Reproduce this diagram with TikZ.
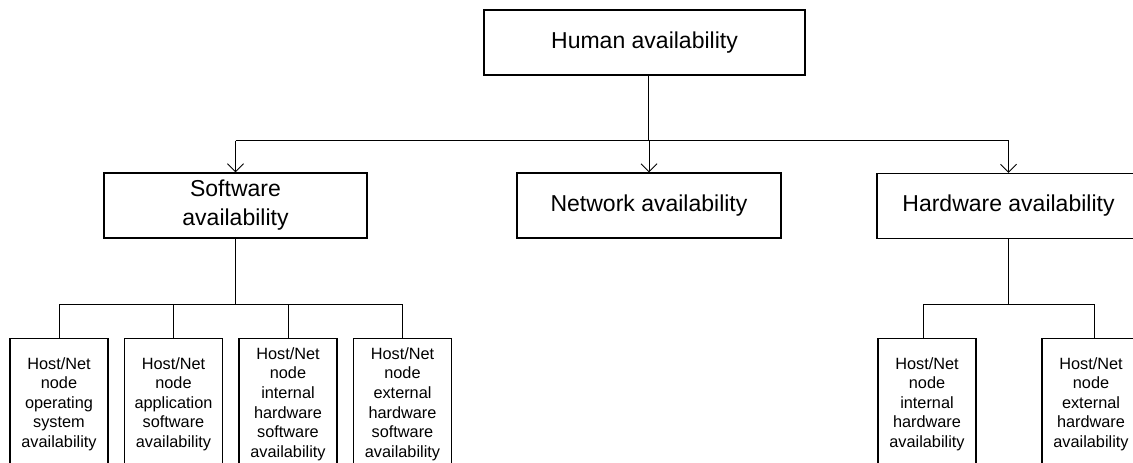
\documentclass[tikz,border=0pt]{standalone}
\usepackage{fontspec}
\setmainfont{Liberation Sans}
\usetikzlibrary{arrows.meta}
\begin{document}
\begin{tikzpicture}[x=1pt,y=-1pt,
  bigbox/.style={draw, line width=1.1pt, inner sep=0pt, align=center,
    minimum width=263pt, minimum height=65pt,
    font=\fontsize{23}{28.5}\selectfont},
  leafbox/.style={draw, line width=1.1pt, inner sep=0pt, anchor=north,
    minimum width=98pt, minimum height=140pt},
  leaftext/.style={align=center, inner sep=0pt,
    font=\fontsize{16.3}{19.6}\selectfont},
  wire/.style={line width=1pt},
  arr/.style={wire, -{Straight Barb[length=8pt,width=16pt,line width=1pt]}}
]
\clip (0,0) rectangle (1133,463);

% top level and second level
\node[bigbox, minimum width=321pt] (human) at (644.5,42.5) {Human availability};
\node[bigbox] (soft) at (235.5,205.5) {Software\\[0.5pt]availability};
\node[bigbox, minimum width=264pt] (net) at (649,205.5) {Network availability};
\node[bigbox] (hard) at (1008.5,206) {Hardware availability};

% software leaves
\node[leafbox] (s1) at (59,338) {};
\node[leafbox] (s2) at (173.5,338) {};
\node[leafbox] (s3) at (288,338) {};
\node[leafbox] (s4) at (402.5,338) {};
\node[leaftext] (s1t) at (59,404) {Host/Net\\node\\operating\\system\\availability};
\node[leaftext] (s2t) at (173.5,404) {Host/Net\\node\\application\\software\\availability};
\node[leaftext] (s3t) at (288,404) {Host/Net\\node\\internal\\hardware\\software\\availability};
\node[leaftext] (s4t) at (402.5,404) {Host/Net\\node\\external\\hardware\\software\\availability};

% hardware leaves
\node[leafbox] (h1) at (927,338) {};
\node[leafbox] (h2) at (1091,338) {};
\node[leaftext] (h1t) at (927,404) {Host/Net\\node\\internal\\hardware\\availability};
\node[leaftext] (h2t) at (1091,404) {Host/Net\\node\\external\\hardware\\availability};

% top fan-out
\draw[wire] ([xshift=3.5pt]human.south) -- ++(0,65) coordinate (hub);
\draw[wire] (soft.north |- hub) -- (hard.north |- hub);
\draw[arr] (soft.north |- hub) -- (soft.north);
\draw[arr] (net.north |- hub) -- (net.north);
\draw[arr] (hard.north |- hub) -- (hard.north);

% software branch
\draw[wire] (soft.south) -- ++(0,66) coordinate (sbus);
\draw[wire] (s1.north |- sbus) -- (s4.north |- sbus);
\foreach \n in {s1,s2,s3,s4}
  \draw[wire] (\n.north |- sbus) -- (\n.north);

% hardware branch
\draw[wire] (hard.south) -- ++(0,65) coordinate (hbus);
\coordinate (hd1) at ([xshift=-4pt]h1.north);
\coordinate (hd2) at ([xshift=3pt]h2.north);
\draw[wire] (hd1 |- hbus) -- (hd2 |- hbus);
\draw[wire] (hd1 |- hbus) -- (hd1);
\draw[wire] (hd2 |- hbus) -- (hd2);
\end{tikzpicture}
\end{document}
